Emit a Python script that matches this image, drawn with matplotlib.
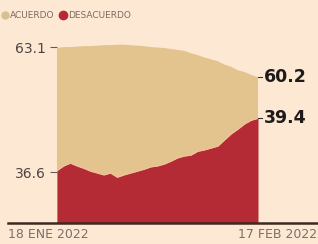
import numpy as np
import matplotlib.pyplot as plt
from matplotlib.lines import Line2D

# daily series, 18 ene -> 17 feb 2022 (chart scale)
days = np.arange(31)
acuerdo = [62.9, 63.1, 63.1, 63.2, 63.3, 63.3, 63.4, 63.5, 63.5, 63.6, 63.6,
           63.5, 63.4, 63.3, 63.1, 63.0, 62.9, 62.7, 62.5, 62.3, 61.8, 61.4,
           60.9, 60.5, 60.1, 59.4, 58.9, 58.2, 57.8, 57.2, 56.7]
desacuerdo = [36.9, 37.9, 38.5, 37.9, 37.4, 36.8, 36.4, 36.0, 36.4, 35.5, 36.0,
              36.4, 36.8, 37.2, 37.7, 37.9, 38.3, 38.9, 39.6, 40.0, 40.2, 41.0,
              41.3, 41.7, 42.1, 43.4, 44.7, 45.7, 46.8, 47.6, 48.0]
left_ticks = [63.1, 36.6]
end_labels = ["60.2", "39.4"]
date_labels = ["18 ENE 2022", "17 FEB 2022"]

bg = "#fde8d4"
tan = "#e3c48f"
red = "#b52b35"

fig = plt.figure(figsize=(3.18, 2.44), dpi=100, facecolor=bg)
ax = fig.add_axes([57 / 318, 21 / 244, 201 / 318, 183 / 244])
ax.set_facecolor(bg)
ax.set_xlim(0, 30)
ax.set_ylim(25.8, 64.6)

ax.fill_between(days, 0, acuerdo, color=tan, lw=0)
ax.fill_between(days, 0, desacuerdo, color=red, lw=0)
ax.plot(days, desacuerdo, color="#f5bf9c", lw=0.9)

for s in ax.spines.values():
    s.set_visible(False)
ax.set_xticks([])
ax.set_yticks(left_ticks)
ax.set_yticklabels([f"{v}" for v in left_ticks], fontsize=10, color="#4e4440")
ax.tick_params(axis="y", length=5, width=0.8, color="#6a5a55", pad=3)

# end labels
for v, lab in zip([acuerdo[-1], desacuerdo[-1]], end_labels):
    ax.plot([30, 30.6], [v, v], color="#333", lw=0.8, clip_on=False)
    ax.text(30.9, v, lab, fontsize=12.5, fontweight="bold", color="#1e1a1a",
            va="center", ha="left", clip_on=False)

# baseline
fig.add_artist(Line2D([8 / 318, 1], [21.5 / 244, 21.5 / 244], color="#3b2a22", lw=1.8))
fig.text(8 / 318, 9 / 244, date_labels[0], fontsize=9, color="#7d6e68", va="center")
fig.text(317 / 318, 9 / 244, date_labels[1], fontsize=9, color="#7d6e68",
         va="center", ha="right")

# legend
fig.add_artist(Line2D([5 / 318], [229 / 244], marker="o", ms=5, color="#d9c08e", lw=0))
fig.text(10 / 318, 229 / 244, "ACUERDO", fontsize=6.5, color="#7a6a60", va="center",
         family=["Liberation Sans Narrow", "DejaVu Sans"])
fig.add_artist(Line2D([63 / 318], [229 / 244], marker="o", ms=6, color=red, lw=0))
fig.text(68 / 318, 229 / 244, "DESACUERDO", fontsize=6.5, color="#7a6a60", va="center",
         family=["Liberation Sans Narrow", "DejaVu Sans"])

fig.savefig("out.png", dpi=100, facecolor=bg)
